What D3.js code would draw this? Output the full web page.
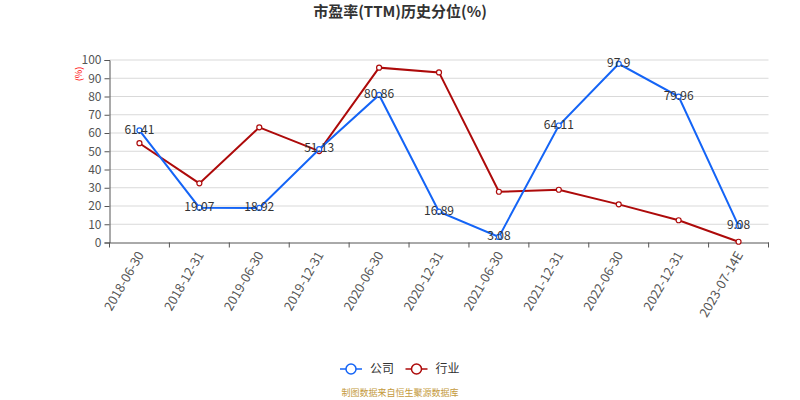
<!DOCTYPE html>
<html><head><meta charset="utf-8">
<script src="https://cdn.jsdelivr.net/npm/d3@7"></script>
<style>body{margin:0;background:#fff;font-family:"Microsoft YaHei","Noto Sans CJK SC",sans-serif;}</style>
</head><body><svg id="c" width="800" height="400"></svg>
<script>
const categories = ["2018-06-30","2018-12-31","2019-06-30","2019-12-31","2020-06-30","2020-12-31","2021-06-30","2021-12-31","2022-06-30","2022-12-31","2023-07-14E"];
const companyValues = [61.41,19.07,18.92,51.13,80.86,16.89,3.08,64.11,97.9,79.96,9.08];
const industryValues = [54.4,32.4,63.1,50.1,95.8,93.2,27.8,28.9,20.9,12.2,0.4];
const yTicks = [0,10,20,30,40,50,60,70,80,90,100];
const seriesNames = ["公司","行业"];
const colors = ["#1464f6","#ad0a0a"];

const svg = d3.select("#c");
const font = '"Noto Sans CJK SC", sans-serif';
const x = d3.scaleBand().domain(categories).range([109.5, 768.5]);
const y = d3.scaleLinear().domain([0,100]).range([242.5, 60]);

// grid
svg.append("g").selectAll("line").data(yTicks.slice(1)).join("line")
  .attr("x1",109.5).attr("x2",768.5).attr("y1",d=>y(d)).attr("y2",d=>y(d))
  .attr("stroke","#d9d9d9").attr("stroke-width",1);

// y axis
const ya = svg.append("g").attr("transform","translate(109.5,0)")
  .call(d3.axisLeft(y).tickValues(yTicks).tickSize(5).tickPadding(3));
ya.select(".domain").attr("stroke","#555");
ya.selectAll(".tick line").attr("stroke","#555");
ya.selectAll("text").attr("fill","#555").style("font-size","12px").style("font-family",font);

// x axis
const xa = svg.append("g").attr("transform","translate(0,242.5)")
  .call(d3.axisBottom(x).tickSize(0).tickSizeOuter(0));
xa.select(".domain").attr("stroke","#555");
xa.selectAll(".tick line").remove();
xa.selectAll(".tick text")
  .attr("fill","#555").style("font-size","12.8px").style("font-family",font)
  .attr("text-anchor","end").attr("dy","0.35em").attr("x",0).attr("y",0)
  .attr("transform","translate(1,10) rotate(-60)");
// band boundary ticks
const bounds = categories.map(c=>x(c)).concat([x.range()[1]]);
svg.append("g").selectAll("line").data(bounds).join("line")
  .attr("x1",d=>d).attr("x2",d=>d).attr("y1",242.5).attr("y2",247.5)
  .attr("stroke","#555");

// y unit
svg.append("text").attr("transform","translate(79,74) rotate(-90)")
  .attr("text-anchor","middle").attr("dy","0.35em")
  .attr("fill","#ff0000").style("font-size","9px").style("font-family",font).text("(%)");

const cx = d => x(d) + x.bandwidth()/2;
const line = d3.line().x((d,i)=>cx(categories[i])).y(d=>y(d));

[industryValues, companyValues].forEach((vals, k) => {
  const col = k===0 ? colors[1] : colors[0];
  svg.append("path").datum(vals).attr("d",line).attr("fill","none")
    .attr("stroke",col).attr("stroke-width",2);
  svg.append("g").selectAll("circle").data(vals).join("circle")
    .attr("cx",(d,i)=>cx(categories[i])).attr("cy",d=>y(d)).attr("r",2.5)
    .attr("fill","#fff").attr("stroke",col).attr("stroke-width",1.2);
});

// labels for company
svg.append("g").selectAll("text").data(companyValues).join("text")
  .attr("x",(d,i)=>cx(categories[i])).attr("y",d=>y(d)-1)
  .attr("text-anchor","middle").attr("dy","0.35em")
  .attr("fill","#333").style("font-size","12px").style("font-family",font)
  .text(d=>d);

// title
svg.append("text").attr("x",400).attr("y",12).attr("text-anchor","middle").attr("dy","0.35em")
  .attr("fill","#333").style("font-size","15px").style("font-weight","bold").style("font-family",font)
  .text("市盈率(TTM)历史分位(%)");

// legend
const leg = [{n:seriesNames[0],c:colors[0],x:340},{n:seriesNames[1],c:colors[1],x:405.5}];
leg.forEach(l=>{
  const g = svg.append("g");
  g.append("line").attr("x1",l.x).attr("x2",l.x+22).attr("y1",369).attr("y2",369).attr("stroke",l.c).attr("stroke-width",1.5);
  g.append("circle").attr("cx",l.x+11).attr("cy",369).attr("r",5).attr("fill","#fff").attr("stroke",l.c).attr("stroke-width",1.5);
  g.append("text").attr("x",l.x+30).attr("y",369).attr("dy","0.35em").attr("fill","#333")
    .style("font-size","12px").style("font-family",font).text(l.n);
});

svg.append("text").attr("x",400).attr("y",393).attr("text-anchor","middle").attr("dy","0.35em")
  .attr("fill","#c49a3c").style("font-size","9px").style("font-family",font).text("制图数据来自恒生聚源数据库");
</script></body></html>
